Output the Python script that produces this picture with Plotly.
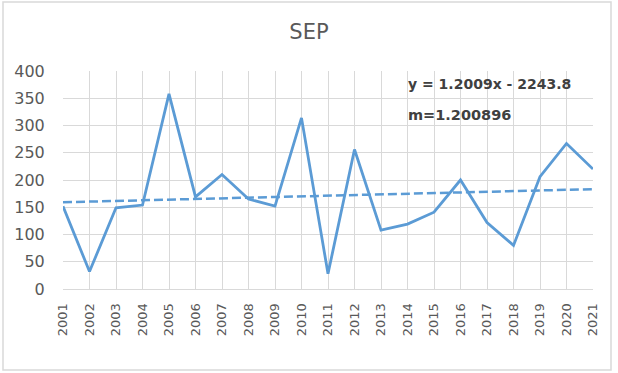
import plotly.graph_objects as go

years = list(range(2001, 2022))
sep_values = [152, 32, 149, 154, 358, 169, 210, 165, 152, 314, 28, 256,
              108, 119, 141, 200, 122, 80, 206, 267, 220]
trend_slope = 1.2009
trend_intercept = -2243.8
title_text = "SEP"
eq_text = "y = 1.2009x - 2243.8"
m_text = "m=1.200896"

trend_values = [trend_slope * y + trend_intercept for y in years]

LINE = "#5B9BD5"
GRID = "#D9D9D9"
TXT = "#595959"

fig = go.Figure()
fig.add_trace(go.Scatter(x=years, y=sep_values, mode="lines",
                         line=dict(color=LINE, width=2.8), showlegend=False))
fig.add_trace(go.Scatter(x=years, y=trend_values, mode="lines",
                         line=dict(color=LINE, width=2.5, dash="9px,4px"), showlegend=False))

L, R, T, B = 63, 25, 71, 84
W, H = 618, 373
pw = W - L - R
ph = H - T - B

def px(xp):
    return (xp - L) / pw

def py(yp):
    return (H - B - yp) / ph

fig.update_layout(
    width=W, height=H,
    margin=dict(l=L, r=R, t=T, b=B, autoexpand=False),
    paper_bgcolor="white", plot_bgcolor="white",
    font=dict(family="DejaVu Sans", color=TXT),
    title=dict(text=title_text, x=0.5, xanchor="center", y=1 - 32 / H, yanchor="middle",
               font=dict(size=21, color=TXT, family="DejaVu Sans")),
    xaxis=dict(range=[2001, 2021], tickmode="array", tickvals=years,
               ticktext=[str(y) for y in years], tickangle=-90,
               showgrid=True, gridcolor=GRID, gridwidth=1,
               zeroline=False, showline=True, linecolor=GRID, linewidth=1,
               ticks="outside", ticklen=8, tickcolor="rgba(0,0,0,0)",
               tickfont=dict(size=13, color=TXT)),
    yaxis=dict(range=[0, 400], tickmode="linear", tick0=0, dtick=50,
               showgrid=True, gridcolor=GRID, gridwidth=1,
               zeroline=False, showline=False,
               ticks="outside", ticklen=14, tickcolor="rgba(0,0,0,0)",
               tickfont=dict(size=16, color=TXT)),
    shapes=[dict(type="rect", xref="paper", yref="paper",
                 x0=px(3), x1=px(611), y0=py(370), y1=py(2),
                 line=dict(color=GRID, width=1.5), fillcolor="rgba(0,0,0,0)", layer="below")],
    annotations=[
        dict(text="<b>" + eq_text + "</b>", xref="paper", yref="paper",
             x=px(406), y=py(84), xanchor="left", yanchor="middle", showarrow=False,
             font=dict(size=14, color="#404040", family="DejaVu Sans")),
        dict(text="<b>" + m_text + "</b>", xref="paper", yref="paper",
             x=px(406), y=py(115), xanchor="left", yanchor="middle", showarrow=False,
             font=dict(size=14.5, color="#404040", family="DejaVu Sans")),
    ],
)

fig.write_html("out.html", config={"displayModeBar": False},
               post_script="document.body.style.margin='0';")
